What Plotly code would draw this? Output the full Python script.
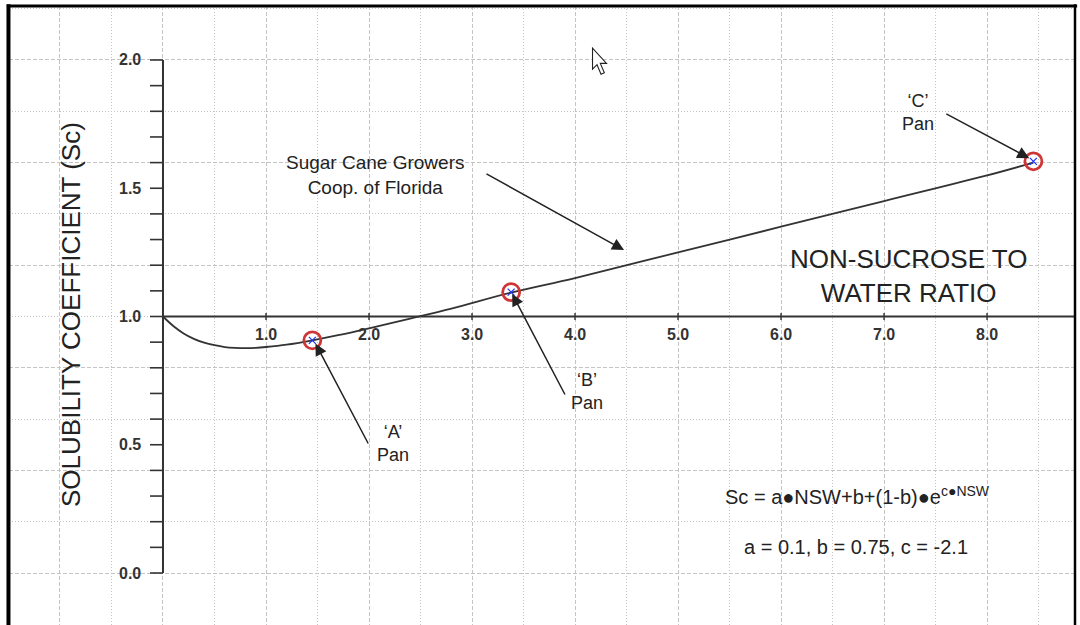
import plotly.graph_objects as go

# ---------------- data ----------------
nsw = [0.0, 0.1, 0.2, 0.3, 0.4, 0.5, 0.6, 0.7, 0.8, 0.9, 1.0, 1.2, 1.45,
       1.7, 2.0, 2.4, 2.8, 3.38, 4.0, 5.0, 6.0, 7.0, 8.0, 8.45]
sc = [1.0, 0.963, 0.934, 0.913, 0.898, 0.888, 0.881, 0.878, 0.877, 0.878,
      0.881, 0.890, 0.907, 0.927, 0.954, 0.992, 1.031, 1.093, 1.150, 1.250,
      1.350, 1.450, 1.550, 1.600]

pan_names = ["‘A’<br>Pan", "‘B’<br>Pan", "‘C’<br>Pan"]
pan_x = [1.45, 3.38, 8.45]
pan_y = [0.907, 1.095, 1.605]
# label centres and arrow tails for the pan call-outs
pan_label_x = [2.23, 4.12, 7.33]
pan_label_y = [0.503, 0.706, 1.795]
pan_tail_x = [2.0, 3.91, 7.59]
pan_tail_y = [0.499, 0.69, 1.793]
pan_head_x = [1.48, 3.39, 8.41]
pan_head_y = [0.895, 1.088, 1.617]

x_tick_vals = [1, 2, 3, 4, 5, 6, 7, 8]
x_tick_text = ["1.0", "2.0", "3.0", "4.0", "5.0", "6.0", "7.0", "8.0"]
y_tick_vals = [0.0, 0.5, 1.0, 1.5, 2.0]
y_tick_text = ["0.0", "0.5", "1.0", "1.5", "2.0"]
y_small_ticks = [round(i * 0.1, 1) for i in range(21)]

X_RANGE = [-1.495, 8.854]
Y_RANGE = [-0.2027, 2.2105]

FONT = "Arial, 'Liberation Sans', sans-serif"
DARK = "#333333"
GRID = "#c4c4c4"

fig = go.Figure()

# curve
fig.add_trace(go.Scatter(x=nsw, y=sc, mode="lines", line=dict(color=DARK, width=1.8, shape="spline"),
                         hoverinfo="skip"))
# pan markers
fig.add_trace(go.Scatter(x=pan_x, y=pan_y, mode="markers",
                         marker=dict(symbol="circle-open", size=17, color="#d03535", line=dict(width=2.8, color="#d03535")),
                         hoverinfo="skip"))
fig.add_trace(go.Scatter(x=pan_x, y=pan_y, mode="markers",
                         marker=dict(symbol="x-thin-open", size=7, color="#2030ff", line=dict(width=1.2, color="#2030ff")),
                         hoverinfo="skip"))

shapes = []
# y axis line
shapes.append(dict(type="line", xref="x", yref="y", x0=0, x1=0, y0=0, y1=2.0, line=dict(color=DARK, width=2)))
# x axis line (at Sc = 1.0)
shapes.append(dict(type="line", xref="x", yref="y", x0=0, x1=X_RANGE[1], y0=1.0, y1=1.0, line=dict(color=DARK, width=2)))
# y ticks (pointing left)
for v in y_small_ticks:
    shapes.append(dict(type="line", xref="x", yref="y", xsizemode="pixel", xanchor=0, x0=-13, x1=0,
                       y0=v, y1=v, line=dict(color=DARK, width=1.6)))
# x ticks (crossing)
for v in x_tick_vals:
    shapes.append(dict(type="line", xref="x", yref="y", ysizemode="pixel", yanchor=1.0, y0=-3.5, y1=3.5,
                       x0=v, x1=v, line=dict(color=DARK, width=1.4)))
# frame border
shapes.append(dict(type="line", xref="paper", yref="paper", x0=-0.0005, x1=-0.0005, y0=0, y1=1.003,
                   line=dict(color="black", width=4)))
shapes.append(dict(type="line", xref="paper", yref="paper", x0=-0.002, x1=1.002, y0=1.0, y1=1.0,
                   line=dict(color="black", width=3)))
shapes.append(dict(type="line", xref="paper", yref="paper", x0=1.0, x1=1.0, y0=0, y1=1.003,
                   line=dict(color="black", width=2.5)))
# mouse pointer (screenshot artifact)
shapes.append(dict(type="path", xref="x", yref="y", xsizemode="pixel", ysizemode="pixel",
                   xanchor=4.17, yanchor=2.046,
                   path="M0,0 L0,-21 L4.5,-16.5 L8.5,-26 L11.8,-24.6 L7.8,-15.2 L14,-15.2 Z",
                   fillcolor="white", line=dict(color="#222222", width=1.1)))

annotations = []
for v, t in zip(x_tick_vals, x_tick_text):
    annotations.append(dict(x=v, y=1.0, xref="x", yref="y", text=t, showarrow=False, yshift=-18,
                            xanchor="center", yanchor="middle",
                            font=dict(family=FONT, size=16, color=DARK, weight="bold")))
for v, t in zip(y_tick_vals, y_tick_text):
    annotations.append(dict(x=0, y=v, xref="x", yref="y", text=t, showarrow=False, xshift=-20,
                            xanchor="right", yanchor="middle",
                            font=dict(family=FONT, size=16, color=DARK, weight="bold")))

# pan labels and arrows
for name, lx, ly in zip(pan_names, pan_label_x, pan_label_y):
    annotations.append(dict(x=lx, y=ly, xref="x", yref="y", text=name, showarrow=False,
                            xanchor="center", yanchor="middle",
                            font=dict(family=FONT, size=18, color="#222222")))
for hx, hy, tx, ty in zip(pan_head_x, pan_head_y, pan_tail_x, pan_tail_y):
    annotations.append(dict(x=hx, y=hy, ax=tx, ay=ty, xref="x", yref="y", axref="x", ayref="y",
                            text="", showarrow=True, arrowhead=2, arrowsize=1.6, arrowwidth=1.5,
                            arrowcolor="#222222"))

# Sugar Cane Growers call-out
annotations.append(dict(x=2.058, y=1.553, xref="x", yref="y", text="Sugar Cane Growers<br>Coop. of Florida",
                        showarrow=False, xanchor="center", yanchor="middle",
                        font=dict(family=FONT, size=19, color="#222222")))
annotations.append(dict(x=4.476, y=1.259, ax=3.126, ay=1.559, xref="x", yref="y", axref="x", ayref="y",
                        text="", showarrow=True, arrowhead=2, arrowsize=1.6, arrowwidth=1.5,
                        arrowcolor="#222222"))

# axis titles
annotations.append(dict(x=7.233, y=1.158, xref="x", yref="y", text="NON-SUCROSE TO<br>WATER RATIO",
                        showarrow=False, xanchor="center", yanchor="middle",
                        font=dict(family=FONT, size=26, color="#222222")))
annotations.append(dict(x=-0.893, y=1.006, xref="x", yref="y", text="SOLUBILITY COEFFICIENT (Sc)",
                        showarrow=False, textangle=-90, xanchor="center", yanchor="middle",
                        font=dict(family=FONT, size=26, color="#222222")))

# equation
annotations.append(dict(x=6.738, y=0.304, xref="x", yref="y",
                        text="Sc = a●NSW+b+(1-b)●e<sup>c●NSW</sup>",
                        showarrow=False, xanchor="center", yanchor="middle",
                        font=dict(family=FONT, size=20, color="#222222")))
annotations.append(dict(x=6.728, y=0.101, xref="x", yref="y",
                        text="a = 0.1, b = 0.75, c = -2.1",
                        showarrow=False, xanchor="center", yanchor="middle",
                        font=dict(family=FONT, size=20, color="#222222")))

fig.update_layout(
    width=1080, height=625,
    margin=dict(l=9, r=5, t=6, b=0),
    paper_bgcolor="white", plot_bgcolor="white",
    showlegend=False,
    shapes=shapes, annotations=annotations,
    xaxis=dict(range=X_RANGE, dtick=1, tick0=0, showgrid=True, gridcolor=GRID, griddash="4px,2px",
               gridwidth=1, zeroline=False, showticklabels=False, ticks="", showline=False,
               minor=dict(dtick=0.5, tick0=0, showgrid=True, gridcolor=GRID, griddash="1px,2px", gridwidth=1)),
    yaxis=dict(range=Y_RANGE, dtick=0.4, tick0=0, showgrid=True, gridcolor=GRID, griddash="4px,2px",
               gridwidth=1, zeroline=False, showticklabels=False, ticks="", showline=False,
               minor=dict(dtick=0.2, tick0=0, showgrid=True, gridcolor=GRID, griddash="1px,2px", gridwidth=1)),
)

fig.write_html("out.html", config={"displayModeBar": False},
               post_script="document.body.style.margin='0';document.body.style.overflow='hidden';")
